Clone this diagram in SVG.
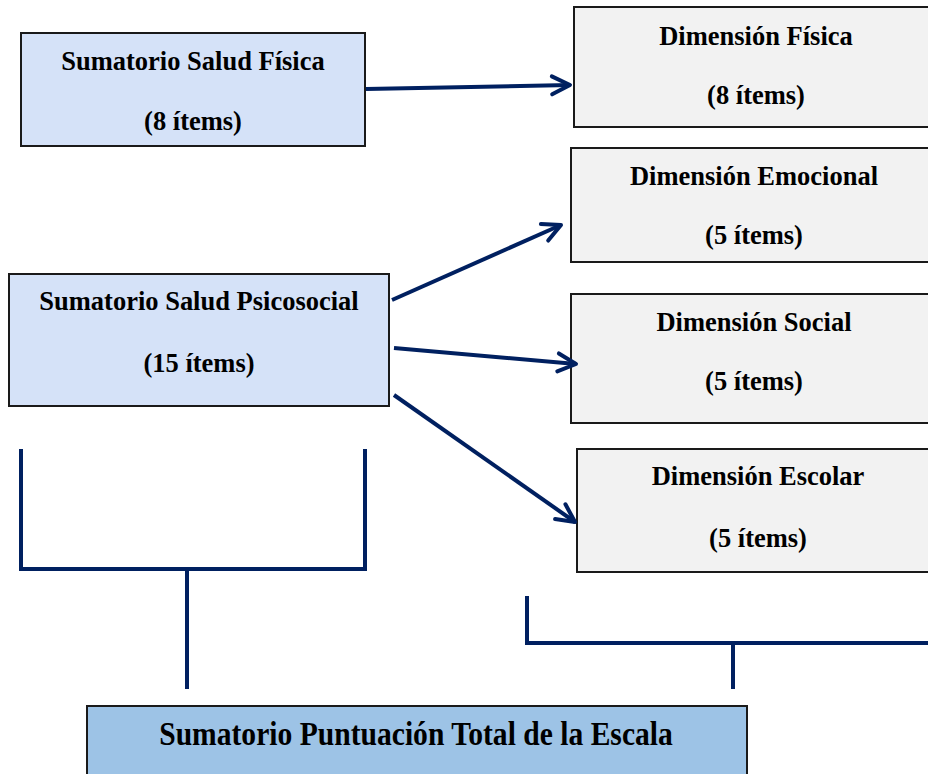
<svg xmlns="http://www.w3.org/2000/svg" width="928" height="774" viewBox="0 0 928 774">
  <style>
    .box { stroke: #1a1a1a; stroke-width: 2; }
    .sum { fill: #d5e2f8; }
    .dim { fill: #f2f2f2; }
    .total { fill: #9dc3e6; }
    .lbl { font-family: "Liberation Serif", "Times New Roman", serif; font-weight: bold; font-size: 26.5px; fill: #000; text-anchor: middle; }
    .big { font-size: 29.6px; }
    .link { fill: none; stroke: #002060; stroke-width: 4; }
  </style>
  <defs>
    <marker id="chev" markerUnits="userSpaceOnUse" viewBox="-22 -12 26 24" refX="0" refY="0" markerWidth="26" markerHeight="24" orient="auto" overflow="visible">
      <path d="M -18 -9 L 0 0 L -18 9" fill="none" stroke="#002060" stroke-width="4" stroke-linecap="round" stroke-linejoin="round"/>
    </marker>
  </defs>

  <g id="salud-fisica">
    <rect class="box sum" x="21" y="33" width="344" height="113"/>
    <text class="lbl" transform="translate(193,70) scale(1,1.06)">Sumatorio Salud Física</text>
    <text class="lbl" transform="translate(193,130) scale(1,1.06)">(8 ítems)</text>
  </g>

  <g id="salud-psicosocial">
    <rect class="box sum" x="9" y="274" width="380" height="132"/>
    <text class="lbl" transform="translate(199,310) scale(1,1.06)">Sumatorio Salud Psicosocial</text>
    <text class="lbl" transform="translate(199,372) scale(1,1.06)">(15 ítems)</text>
  </g>

  <g id="dim-fisica">
    <rect class="box dim" x="574" y="7" width="370" height="120"/>
    <text class="lbl" transform="translate(756,45) scale(1,1.06)">Dimensión Física</text>
    <text class="lbl" transform="translate(756,104) scale(1,1.06)">(8 ítems)</text>
  </g>

  <g id="dim-emocional">
    <rect class="box dim" x="571" y="148" width="370" height="114"/>
    <text class="lbl" transform="translate(754,185) scale(1,1.06)">Dimensión Emocional</text>
    <text class="lbl" transform="translate(754,244) scale(1,1.06)">(5 ítems)</text>
  </g>

  <g id="dim-social">
    <rect class="box dim" x="571" y="294" width="370" height="129"/>
    <text class="lbl" transform="translate(754,331) scale(1,1.06)">Dimensión Social</text>
    <text class="lbl" transform="translate(754,390) scale(1,1.06)">(5 ítems)</text>
  </g>

  <g id="dim-escolar">
    <rect class="box dim" x="577" y="449" width="370" height="123"/>
    <text class="lbl" transform="translate(758,485) scale(1,1.06)">Dimensión Escolar</text>
    <text class="lbl" transform="translate(758,547) scale(1,1.06)">(5 ítems)</text>
  </g>

  <g id="total">
    <rect class="box total" x="87" y="706" width="660" height="80"/>
    <text class="lbl big" transform="translate(416,745) scale(1,1.12)">Sumatorio Puntuación Total de la Escala</text>
  </g>

  <g id="connectors">
    <line class="link" x1="366" y1="89" x2="570" y2="85" marker-end="url(#chev)"/>
    <line class="link" x1="392" y1="300" x2="561" y2="225" marker-end="url(#chev)"/>
    <line class="link" x1="394" y1="348" x2="576" y2="364" marker-end="url(#chev)"/>
    <line class="link" x1="394" y1="395" x2="575" y2="522" marker-end="url(#chev)"/>
    <!-- bracket under the two subtotal groups -->
    <path class="link" d="M 21 449 V 569 H 365 V 449"/>
    <line class="link" x1="187" y1="569" x2="187" y2="689"/>
    <path class="link" d="M 527 596 V 643 H 930"/>
    <line class="link" x1="733" y1="643" x2="733" y2="689"/>
  </g>
</svg>
